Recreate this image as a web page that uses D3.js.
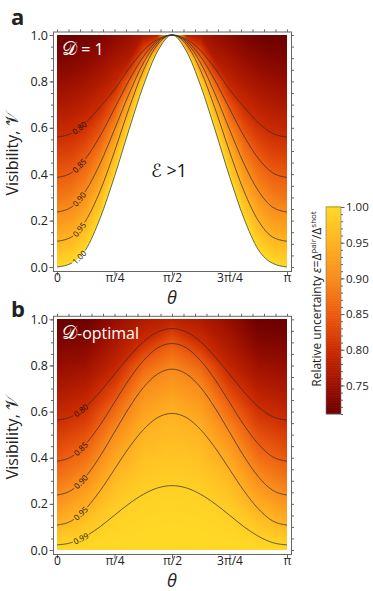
<!DOCTYPE html>
<html>
<head>
<meta charset="utf-8">
<script src="https://cdn.jsdelivr.net/npm/d3@7"></script>
<style>
  body { margin: 0; background: #fff; }
  svg { font-family: "Open Sans", "DejaVu Sans", sans-serif; }
</style>
</head>
<body>
<script>
// ---- data ----
// theta positions are in units of pi
var thetaTicks = [0, 0.25, 0.5, 0.75, 1];
var thetaTickLabels = ["0", "π/4", "π/2", "3π/4", "π"];
var visTicks = [0, 0.2, 0.4, 0.6, 0.8, 1.0];
var barTicks = [0.75, 0.80, 0.85, 0.90, 0.95, 1.00];
var barRange = [0.71, 1.00];

// contour lines: visibility at theta = k*pi/16, k = 0..16
var contourTheta = [0, 0.0625, 0.125, 0.1875, 0.25, 0.3125, 0.375, 0.4375, 0.5,
                    0.5625, 0.625, 0.6875, 0.75, 0.8125, 0.875, 0.9375, 1];

var levelsA = ["0.80", "0.85", "0.90", "0.95", "1.00"];
var contoursA = [
  [0.560, 0.576, 0.622, 0.690, 0.765, 0.855, 0.932, 0.982, 1.000, 0.982, 0.932, 0.855, 0.765, 0.690, 0.622, 0.576, 0.560],
  [0.386, 0.406, 0.468, 0.565, 0.683, 0.803, 0.906, 0.975, 1.000, 0.975, 0.906, 0.803, 0.683, 0.565, 0.468, 0.406, 0.386],
  [0.237, 0.258, 0.329, 0.446, 0.593, 0.745, 0.878, 0.968, 1.000, 0.968, 0.878, 0.745, 0.593, 0.446, 0.329, 0.258, 0.237],
  [0.111, 0.129, 0.200, 0.328, 0.498, 0.682, 0.846, 0.959, 1.000, 0.959, 0.846, 0.682, 0.498, 0.328, 0.200, 0.129, 0.111],
  [0.000, 0.016, 0.075, 0.210, 0.390, 0.590, 0.780, 0.930, 1.000, 0.930, 0.780, 0.590, 0.390, 0.210, 0.075, 0.016, 0.000]
];

var levelsB = ["0.80", "0.85", "0.90", "0.95", "0.99"];
var contoursB = [
  [0.563, 0.578, 0.621, 0.686, 0.762, 0.837, 0.902, 0.945, 0.960, 0.945, 0.902, 0.837, 0.762, 0.686, 0.621, 0.578, 0.563],
  [0.385, 0.404, 0.460, 0.542, 0.640, 0.738, 0.820, 0.876, 0.895, 0.876, 0.820, 0.738, 0.640, 0.542, 0.460, 0.404, 0.385],
  [0.238, 0.259, 0.318, 0.407, 0.511, 0.615, 0.704, 0.763, 0.784, 0.763, 0.704, 0.615, 0.511, 0.407, 0.318, 0.259, 0.238],
  [0.108, 0.126, 0.179, 0.257, 0.350, 0.443, 0.521, 0.574, 0.592, 0.574, 0.521, 0.443, 0.350, 0.257, 0.179, 0.126, 0.108],
  [0.022, 0.032, 0.060, 0.101, 0.151, 0.200, 0.241, 0.269, 0.279, 0.269, 0.241, 0.200, 0.151, 0.101, 0.060, 0.032, 0.022]
];

// colour field: epsilon on a grid, rows are visibility 0.0 .. 1.0
var visGrid = [0, 0.1, 0.2, 0.3, 0.4, 0.5, 0.6, 0.7, 0.8, 0.9, 1.0];
var gridThetaA = contourTheta;
var fieldA = [
  [1.000, 1.007, 1.030, 1.089, 1.180, 1.300, 1.300, 1.300, 1.300, 1.300, 1.300, 1.300, 1.180, 1.089, 1.030, 1.007, 1.000],
  [0.955, 0.963, 0.990, 1.047, 1.134, 1.260, 1.300, 1.300, 1.300, 1.300, 1.300, 1.260, 1.134, 1.047, 0.990, 0.963, 0.955],
  [0.913, 0.922, 0.950, 1.004, 1.088, 1.210, 1.300, 1.300, 1.300, 1.300, 1.300, 1.210, 1.088, 1.004, 0.950, 0.922, 0.913],
  [0.877, 0.886, 0.911, 0.962, 1.042, 1.160, 1.300, 1.300, 1.300, 1.300, 1.300, 1.160, 1.042, 0.962, 0.911, 0.886, 0.877],
  [0.846, 0.852, 0.874, 0.919, 0.995, 1.100, 1.290, 1.300, 1.300, 1.300, 1.290, 1.100, 0.995, 0.919, 0.874, 0.852, 0.846],
  [0.817, 0.822, 0.840, 0.877, 0.949, 1.049, 1.210, 1.300, 1.300, 1.300, 1.210, 1.049, 0.949, 0.877, 0.840, 0.822, 0.817],
  [0.790, 0.795, 0.807, 0.836, 0.896, 0.995, 1.137, 1.300, 1.300, 1.300, 1.137, 0.995, 0.896, 0.836, 0.807, 0.795, 0.790],
  [0.766, 0.771, 0.781, 0.796, 0.840, 0.936, 1.060, 1.250, 1.300, 1.250, 1.060, 0.936, 0.840, 0.796, 0.781, 0.771, 0.766],
  [0.745, 0.749, 0.757, 0.770, 0.787, 0.853, 0.985, 1.150, 1.300, 1.150, 0.985, 0.853, 0.787, 0.770, 0.757, 0.749, 0.745],
  [0.726, 0.729, 0.735, 0.745, 0.760, 0.770, 0.861, 1.050, 1.300, 1.050, 0.861, 0.770, 0.760, 0.745, 0.735, 0.729, 0.726],
  [0.710, 0.712, 0.716, 0.724, 0.735, 0.748, 0.765, 0.780, 1.050, 0.780, 0.765, 0.748, 0.735, 0.724, 0.716, 0.712, 0.710]
];

var gridThetaB = [0, 0.125, 0.25, 0.375, 0.5, 0.625, 0.75, 0.875, 1];
var fieldB = [
  [1.000, 1.000, 1.000, 1.000, 1.000, 1.000, 1.000, 1.000, 1.000],
  [0.955, 0.977, 0.993, 0.997, 0.998, 0.997, 0.993, 0.977, 0.955],
  [0.913, 0.942, 0.980, 0.992, 0.994, 0.992, 0.980, 0.942, 0.913],
  [0.877, 0.906, 0.960, 0.982, 0.987, 0.982, 0.960, 0.906, 0.877],
  [0.846, 0.871, 0.934, 0.967, 0.974, 0.967, 0.934, 0.871, 0.846],
  [0.817, 0.838, 0.903, 0.953, 0.962, 0.953, 0.903, 0.838, 0.817],
  [0.790, 0.806, 0.866, 0.928, 0.948, 0.928, 0.866, 0.806, 0.790],
  [0.766, 0.778, 0.825, 0.901, 0.922, 0.901, 0.825, 0.778, 0.766],
  [0.745, 0.753, 0.787, 0.859, 0.893, 0.859, 0.787, 0.753, 0.745],
  [0.726, 0.730, 0.765, 0.801, 0.846, 0.801, 0.765, 0.730, 0.726],
  [0.710, 0.713, 0.745, 0.770, 0.785, 0.770, 0.745, 0.713, 0.710]
];

// ---- setup ----
var svgWidth = 373;
var svgHeight = 591;

var svg = d3.select("body").append("svg")
  .attr("width", svgWidth)
  .attr("height", svgHeight);

var x = d3.scaleLinear().domain([0, 1]).range([57, 287]);

var color = d3.scaleLinear()
  .domain([0.71, 0.75, 0.80, 0.85, 0.90, 0.95, 1.00])
  .range(["#6a0000", "#9c1000", "#cc2c02", "#ec5c10", "#f98c1c", "#ffb222", "#ffd926"])
  .clamp(true);

var thresholds = d3.range(0.700, 1.0001, 0.0025);
var frameColor = "#666";

function drawPanel(p) {
  var y = d3.scaleLinear().domain([0, 1]).range(p.yRange);
  var g = svg.append("g");

  svg.append("clipPath").attr("id", "clip-" + p.id)
    .append("rect")
    .attr("x", x(0)).attr("y", y(1))
    .attr("width", x(1) - x(0)).attr("height", y(0) - y(1));

  // colour field through d3.contours
  var nx = p.gridTheta.length, ny = visGrid.length;
  var values = [].concat.apply([], p.field);
  var bands = d3.contours().size([nx, ny]).thresholds(thresholds)(values);
  var gx = d3.scaleLinear().domain([0.5, nx - 0.5]).range([x(p.gridTheta[0]), x(p.gridTheta[nx - 1])]);
  var gy = d3.scaleLinear().domain([0.5, ny - 0.5]).range([y(visGrid[0]), y(visGrid[ny - 1])]);
  var geo = d3.geoPath(d3.geoTransform({
    point: function(a, b) { this.stream.point(gx(a), gy(b)); }
  }));

  var fill = g.append("g").attr("clip-path", "url(#clip-" + p.id + ")");
  fill.append("rect")
    .attr("x", x(0)).attr("y", y(1))
    .attr("width", x(1) - x(0)).attr("height", y(0) - y(1))
    .attr("fill", color(0.70));
  fill.selectAll("path")
    .data(bands)
    .join("path")
    .attr("d", geo)
    .attr("fill", d => color(d.value + 0.00125));

  // region with epsilon > 1 stays white
  if (p.whiteBelow != null) {
    var area = d3.area()
      .x((d, i) => x(contourTheta[i]))
      .y0(y(0))
      .y1(d => y(d))
      .curve(d3.curveMonotoneX);
    fill.append("path")
      .attr("d", area(p.contours[p.whiteBelow]))
      .attr("fill", "#fff");
  }

  // contour lines with labels
  var line = d3.line()
    .x((d, i) => x(contourTheta[i]))
    .y(d => y(d))
    .curve(d3.curveMonotoneX);

  p.contours.forEach(function(vals, li) {
    var pth = g.append("path")
      .attr("d", line(vals))
      .attr("fill", "none")
      .attr("stroke", "#2b2b2b")
      .attr("stroke-width", 0.7);
    var node = pth.node();
    var L = node.getTotalLength();
    var lo = 0, hi = L;
    for (var it = 0; it < 30; it++) {
      var mid = (lo + hi) / 2;
      if (node.getPointAtLength(mid).x < p.labelX) lo = mid; else hi = mid;
    }
    var s = (lo + hi) / 2;
    var pt = node.getPointAtLength(s);
    var p1 = node.getPointAtLength(Math.max(0, s - 3));
    var p2 = node.getPointAtLength(Math.min(L, s + 3));
    var ang = Math.atan2(p2.y - p1.y, p2.x - p1.x) * 180 / Math.PI;
    var gap = 18;
    pth.attr("stroke-dasharray", (s - gap / 2) + " " + gap + " " + L);
    g.append("text")
      .attr("transform", "translate(" + pt.x + "," + pt.y + ") rotate(" + ang + ")")
      .attr("text-anchor", "middle")
      .attr("dy", "0.34em")
      .attr("font-size", 8)
      .attr("fill", "#111")
      .text(p.levels[li]);
  });

  // frame
  var fx0 = 53.5, fx1 = 291.5, fy0 = y(1) - 3, fy1 = y(0) + 4.5;
  g.append("rect")
    .attr("x", fx0).attr("y", fy0)
    .attr("width", fx1 - fx0).attr("height", fy1 - fy0)
    .attr("fill", "none")
    .attr("stroke", frameColor)
    .attr("stroke-width", 1);

  var minorT = d3.range(0, 21).map(i => i / 20);

  var bottom = g.append("g")
    .attr("transform", "translate(0," + fy1 + ")")
    .call(d3.axisBottom(x).tickValues(thetaTicks).tickSize(4)
      .tickFormat((d, i) => thetaTickLabels[i]));
  var top = g.append("g")
    .attr("transform", "translate(0," + fy0 + ")")
    .call(d3.axisTop(x).tickValues(minorT).tickSize(2.5).tickFormat(""));
  var left = g.append("g")
    .attr("transform", "translate(" + fx0 + ",0)")
    .call(d3.axisLeft(y).tickValues(visTicks).tickSize(4).tickPadding(1.5)
      .tickFormat(d3.format(".1f")));
  var leftMinor = g.append("g")
    .attr("transform", "translate(" + fx0 + ",0)")
    .call(d3.axisLeft(y).tickValues(minorT).tickSize(2.5).tickFormat(""));
  var right = g.append("g")
    .attr("transform", "translate(" + fx1 + ",0)")
    .call(d3.axisRight(y).tickValues(minorT).tickSize(2.5).tickFormat(""));

  [bottom, top, left, leftMinor, right].forEach(function(a) {
    a.select(".domain").remove();
    a.selectAll("line").attr("stroke", frameColor);
    a.attr("font-family", null).attr("font-size", 12.5);
    a.selectAll("text").attr("fill", "#222");
  });
  bottom.selectAll("text").attr("y", 10).attr("dy", null).attr("font-size", 12);

  // axis titles
  var vt = svg.append("text")
    .attr("transform", "translate(18," + ((y(0) + y(1)) / 2 + 3) + ") rotate(-90)")
    .attr("text-anchor", "middle")
    .attr("font-size", 16)
    .attr("fill", "#222");
  vt.append("tspan").text("Visibility, ");
  vt.append("tspan").attr("font-size", 17).text("𝒱");

  svg.append("text")
    .attr("x", x(0.5))
    .attr("y", fy1 + 32.5)
    .attr("text-anchor", "middle")
    .attr("font-size", 18)
    .attr("font-style", "italic")
    .attr("fill", "#222")
    .text("θ");

  // panel letter
  svg.append("text")
    .attr("x", 11)
    .attr("y", p.letterY)
    .attr("font-size", 22)
    .attr("font-weight", "bold")
    .attr("fill", "#222")
    .text(p.id);

  // title in the plot
  var tt = svg.append("text")
    .attr("x", 62)
    .attr("y", y(1) + 20)
    .attr("font-size", 16)
    .attr("fill", "#fff");
  tt.append("tspan").attr("font-size", 19).text("𝒟");
  tt.append("tspan").text(p.title);

  return y;
}

var yA = drawPanel({
  id: "a", yRange: [267, 35], gridTheta: gridThetaA, field: fieldA,
  contours: contoursA, levels: levelsA, whiteBelow: 4, labelX: 79.5,
  letterY: 25, title: " = 1"
});
svg.append("text")
  .attr("x", 151)
  .attr("y", yA(0.39))
  .attr("font-size", 18)
  .attr("fill", "#111")
  .text("ℰ >1");

drawPanel({
  id: "b", yRange: [550, 319.3], gridTheta: gridThetaB, field: fieldB,
  contours: contoursB, levels: levelsB, whiteBelow: null, labelX: 81,
  letterY: 317, title: "-optimal"
});

// ---- colour bar ----
var cb = d3.scaleLinear().domain(barRange).range([414, 207]);
var cbX = 326, cbW = 15;
var steps = d3.range(barRange[0], barRange[1], 0.001);
svg.append("g").selectAll("rect")
  .data(steps)
  .join("rect")
  .attr("x", cbX)
  .attr("width", cbW)
  .attr("y", d => cb(d + 0.001) - 0.3)
  .attr("height", d => cb(d) - cb(d + 0.001) + 0.6)
  .attr("fill", d => color(d + 0.0005));
svg.append("rect")
  .attr("x", cbX).attr("y", cb(barRange[1]))
  .attr("width", cbW).attr("height", cb(barRange[0]) - cb(barRange[1]))
  .attr("fill", "none").attr("stroke", "#777").attr("stroke-width", 0.6);

var cbAxis = svg.append("g")
  .attr("transform", "translate(" + (cbX + cbW) + ",0)")
  .call(d3.axisRight(cb).tickValues(barTicks).tickSize(3.5).tickPadding(1.5).tickFormat(d3.format(".2f")));
var cbMinor = svg.append("g")
  .attr("transform", "translate(" + (cbX + cbW) + ",0)")
  .call(d3.axisRight(cb).tickValues(d3.range(71, 101).map(i => i / 100)).tickSize(2).tickFormat(""));
[cbAxis, cbMinor].forEach(function(a) {
  a.select(".domain").remove();
  a.selectAll("line").attr("stroke", frameColor);
  a.attr("font-family", null).attr("font-size", 11.5);
  a.selectAll("text").attr("fill", "#222");
});

var ct = svg.append("text")
  .attr("transform", "translate(321,299) rotate(-90)")
  .attr("text-anchor", "middle")
  .attr("font-size", 12)
  .attr("fill", "#222");
ct.append("tspan").text("Relative uncertainty ");
ct.append("tspan").attr("font-style", "italic").text("ε");
ct.append("tspan").text("=Δ");
ct.append("tspan").attr("font-size", 8).attr("dy", -5).text("pair");
ct.append("tspan").attr("dy", 5).text("/Δ");
ct.append("tspan").attr("font-size", 8).attr("dy", -5).text("shot");
</script>
</body>
</html>
